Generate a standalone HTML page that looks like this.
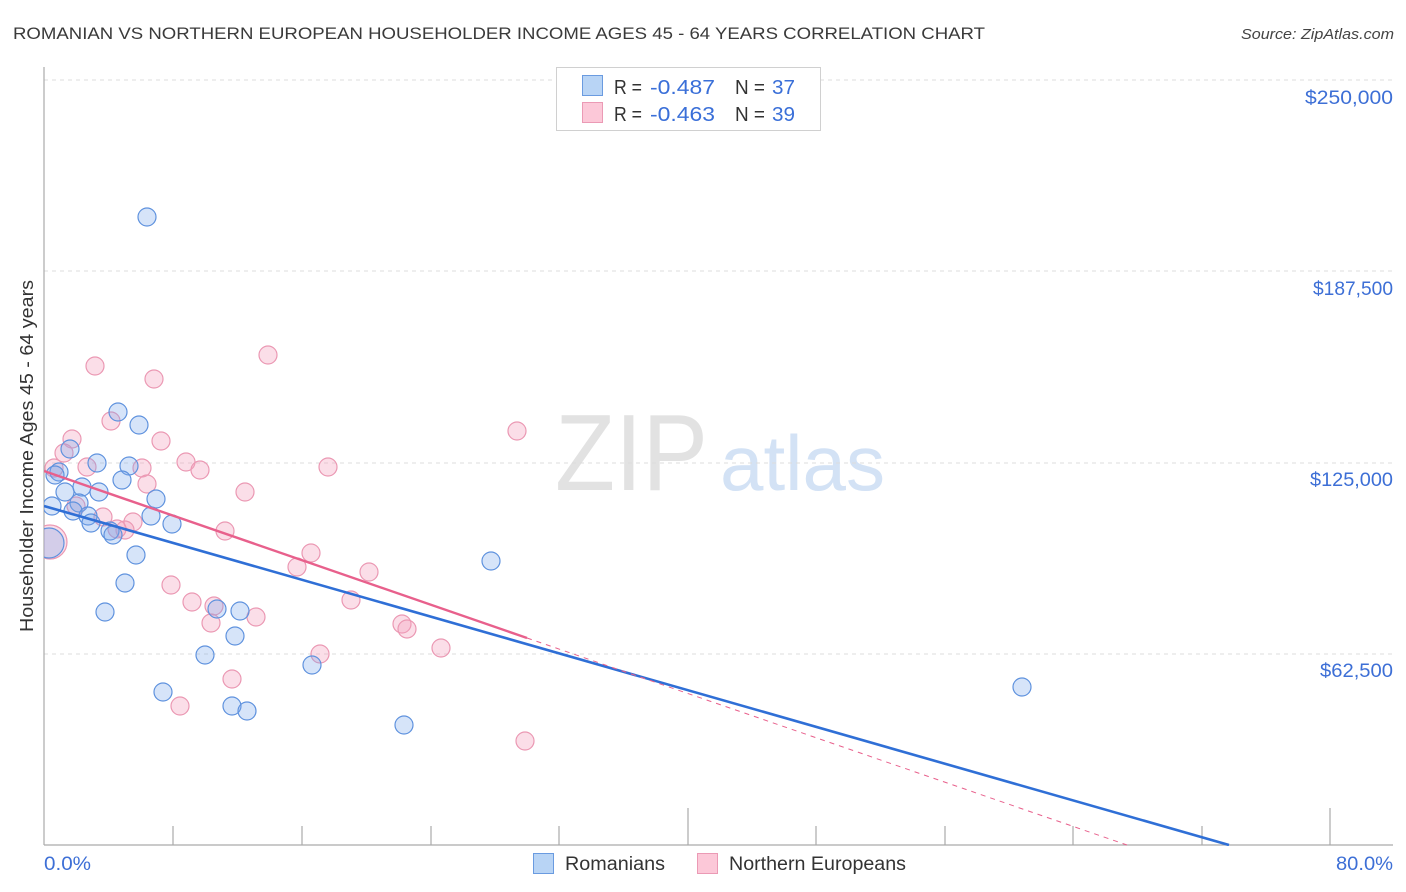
<!DOCTYPE html>
<html><head><meta charset="utf-8"><style>
html,body{margin:0;padding:0;background:#fff;}
svg{display:block;}
text{font-family:"Liberation Sans",sans-serif;}
</style></head><body>
<svg width="1406" height="892" viewBox="0 0 1406 892" xmlns="http://www.w3.org/2000/svg">
<rect width="1406" height="892" fill="#fff"/>
<text x="13" y="39" font-size="17" fill="#3a3a3a" textLength="972" lengthAdjust="spacingAndGlyphs">ROMANIAN VS NORTHERN EUROPEAN HOUSEHOLDER INCOME AGES 45 - 64 YEARS CORRELATION CHART</text>
<text x="1394" y="39" font-size="15" fill="#444" font-style="italic" text-anchor="end" textLength="153" lengthAdjust="spacingAndGlyphs">Source: ZipAtlas.com</text>

<!-- watermark -->
<text x="555" y="490" font-family="Liberation Serif,serif" font-size="109" fill="#e2e2e2" textLength="153" lengthAdjust="spacingAndGlyphs">ZIP</text>
<text x="720" y="490" font-size="78" fill="#d3e2f5" textLength="165" lengthAdjust="spacingAndGlyphs">atlas</text>

<!-- gridlines -->
<g stroke="#dcdcdc" stroke-width="1" stroke-dasharray="4,4">
<line x1="44" y1="80" x2="1393" y2="80"/>
<line x1="44" y1="271" x2="1393" y2="271"/>
<line x1="44" y1="463" x2="1393" y2="463"/>
<line x1="44" y1="654" x2="1393" y2="654"/>
</g>

<!-- axes -->
<g stroke="#aaa" stroke-width="1.2">
<line x1="44" y1="67" x2="44" y2="845"/>
<line x1="44" y1="845" x2="1393" y2="845"/>
<line x1="173" y1="826" x2="173" y2="845"/>
<line x1="302" y1="826" x2="302" y2="845"/>
<line x1="431" y1="826" x2="431" y2="845"/>
<line x1="559" y1="826" x2="559" y2="845"/>
<line x1="688" y1="808" x2="688" y2="845"/>
<line x1="816" y1="826" x2="816" y2="845"/>
<line x1="945" y1="826" x2="945" y2="845"/>
<line x1="1073" y1="826" x2="1073" y2="845"/>
<line x1="1202" y1="826" x2="1202" y2="845"/>
<line x1="1330" y1="808" x2="1330" y2="845"/>
</g>

<!-- y labels -->
<g font-size="19" fill="#3d6fd6" text-anchor="end">
<text x="1393" y="104" textLength="88" lengthAdjust="spacingAndGlyphs">$250,000</text>
<text x="1393" y="295" textLength="80" lengthAdjust="spacingAndGlyphs">$187,500</text>
<text x="1393" y="486" textLength="83" lengthAdjust="spacingAndGlyphs">$125,000</text>
<text x="1393" y="677" textLength="73" lengthAdjust="spacingAndGlyphs">$62,500</text>
</g>
<text x="44" y="870" font-size="19" fill="#3d6fd6" textLength="47" lengthAdjust="spacingAndGlyphs">0.0%</text>
<text x="1393" y="870" font-size="19" fill="#3d6fd6" text-anchor="end" textLength="57" lengthAdjust="spacingAndGlyphs">80.0%</text>

<text transform="translate(33,456) rotate(-90)" font-size="18" fill="#333" text-anchor="middle" textLength="352" lengthAdjust="spacingAndGlyphs">Householder Income Ages 45 - 64 years</text>

<defs><clipPath id="pa"><rect x="44" y="60" width="1360" height="786"/></clipPath></defs>
<g clip-path="url(#pa)">
<!-- pink points -->
<g fill="rgba(244,160,188,0.35)" stroke="#eb98b3" stroke-width="1.2">
<circle cx="50" cy="542" r="17"/>
<circle cx="95" cy="366" r="9"/>
<circle cx="154" cy="379" r="9"/>
<circle cx="268" cy="355" r="9"/>
<circle cx="111" cy="421" r="9"/>
<circle cx="161" cy="441" r="9"/>
<circle cx="72" cy="439" r="9"/>
<circle cx="64" cy="453" r="9"/>
<circle cx="87" cy="467" r="9"/>
<circle cx="186" cy="462" r="9"/>
<circle cx="200" cy="470" r="9"/>
<circle cx="142" cy="468" r="9"/>
<circle cx="147" cy="484" r="9"/>
<circle cx="54" cy="468" r="9"/>
<circle cx="245" cy="492" r="9"/>
<circle cx="103" cy="517" r="9"/>
<circle cx="133" cy="522" r="9"/>
<circle cx="125" cy="530" r="9"/>
<circle cx="117" cy="529" r="9"/>
<circle cx="225" cy="531" r="9"/>
<circle cx="76" cy="506" r="9"/>
<circle cx="328" cy="467" r="9"/>
<circle cx="517" cy="431" r="9"/>
<circle cx="311" cy="553" r="9"/>
<circle cx="297" cy="567" r="9"/>
<circle cx="369" cy="572" r="9"/>
<circle cx="171" cy="585" r="9"/>
<circle cx="192" cy="602" r="9"/>
<circle cx="214" cy="606" r="9"/>
<circle cx="211" cy="623" r="9"/>
<circle cx="256" cy="617" r="9"/>
<circle cx="351" cy="600" r="9"/>
<circle cx="402" cy="624" r="9"/>
<circle cx="407" cy="629" r="9"/>
<circle cx="441" cy="648" r="9"/>
<circle cx="320" cy="654" r="9"/>
<circle cx="232" cy="679" r="9"/>
<circle cx="180" cy="706" r="9"/>
<circle cx="525" cy="741" r="9"/>
</g>
<!-- blue points -->
<g fill="rgba(120,165,235,0.3)" stroke="#5f92de" stroke-width="1.2">
<circle cx="49" cy="543" r="15"/>
<circle cx="147" cy="217" r="9"/>
<circle cx="118" cy="412" r="9"/>
<circle cx="139" cy="425" r="9"/>
<circle cx="70" cy="449" r="9"/>
<circle cx="97" cy="463" r="9"/>
<circle cx="129" cy="466" r="9"/>
<circle cx="59" cy="472" r="9"/>
<circle cx="55" cy="475" r="9"/>
<circle cx="122" cy="480" r="9"/>
<circle cx="82" cy="487" r="9"/>
<circle cx="65" cy="492" r="9"/>
<circle cx="99" cy="492" r="9"/>
<circle cx="156" cy="499" r="9"/>
<circle cx="52" cy="506" r="9"/>
<circle cx="79" cy="503" r="9"/>
<circle cx="73" cy="511" r="9"/>
<circle cx="88" cy="516" r="9"/>
<circle cx="151" cy="516" r="9"/>
<circle cx="91" cy="523" r="9"/>
<circle cx="172" cy="524" r="9"/>
<circle cx="110" cy="531" r="9"/>
<circle cx="113" cy="535" r="9"/>
<circle cx="136" cy="555" r="9"/>
<circle cx="125" cy="583" r="9"/>
<circle cx="105" cy="612" r="9"/>
<circle cx="217" cy="609" r="9"/>
<circle cx="240" cy="611" r="9"/>
<circle cx="235" cy="636" r="9"/>
<circle cx="205" cy="655" r="9"/>
<circle cx="312" cy="665" r="9"/>
<circle cx="163" cy="692" r="9"/>
<circle cx="232" cy="706" r="9"/>
<circle cx="247" cy="711" r="9"/>
<circle cx="404" cy="725" r="9"/>
<circle cx="491" cy="561" r="9"/>
<circle cx="1022" cy="687" r="9"/>
</g>
<!-- trend lines -->
<line x1="44" y1="506" x2="1229" y2="845" stroke="#2f6fd6" stroke-width="2.6"/>
<line x1="44" y1="471" x2="527" y2="638" stroke="#e8608c" stroke-width="2.4"/>
<line x1="527" y1="638" x2="1127" y2="845" stroke="#e8608c" stroke-width="1" stroke-dasharray="5,5"/>
</g>

<!-- top legend -->
<rect x="556.5" y="67.5" width="264" height="63" fill="#fff" stroke="#d0d0d0" stroke-width="1"/>
<rect x="582.5" y="75.5" width="20" height="20" fill="#b8d4f5" stroke="#6a9be0" stroke-width="1"/>
<rect x="582.5" y="102.5" width="20" height="20" fill="#fcc8d8" stroke="#eb9ab5" stroke-width="1"/>
<g font-size="20">
<text x="614" y="94" fill="#333" textLength="28" lengthAdjust="spacingAndGlyphs">R =</text>
<text x="650" y="94" fill="#3a6fd8" textLength="65" lengthAdjust="spacingAndGlyphs">-0.487</text>
<text x="735" y="94" fill="#333" textLength="30" lengthAdjust="spacingAndGlyphs">N =</text>
<text x="772" y="94" fill="#3a6fd8" textLength="23" lengthAdjust="spacingAndGlyphs">37</text>
<text x="614" y="121" fill="#333" textLength="28" lengthAdjust="spacingAndGlyphs">R =</text>
<text x="650" y="121" fill="#3a6fd8" textLength="65" lengthAdjust="spacingAndGlyphs">-0.463</text>
<text x="735" y="121" fill="#333" textLength="30" lengthAdjust="spacingAndGlyphs">N =</text>
<text x="772" y="121" fill="#3a6fd8" textLength="23" lengthAdjust="spacingAndGlyphs">39</text>
</g>

<!-- bottom legend -->
<rect x="533.5" y="853.5" width="20" height="20" fill="#b8d4f5" stroke="#6a9be0" stroke-width="1"/>
<text x="565" y="870" font-size="19" fill="#333" textLength="100" lengthAdjust="spacingAndGlyphs">Romanians</text>
<rect x="697.5" y="853.5" width="20" height="20" fill="#fcc8d8" stroke="#eb9ab5" stroke-width="1"/>
<text x="729" y="870" font-size="19" fill="#333" textLength="177" lengthAdjust="spacingAndGlyphs">Northern Europeans</text>
</svg>
</body></html>
